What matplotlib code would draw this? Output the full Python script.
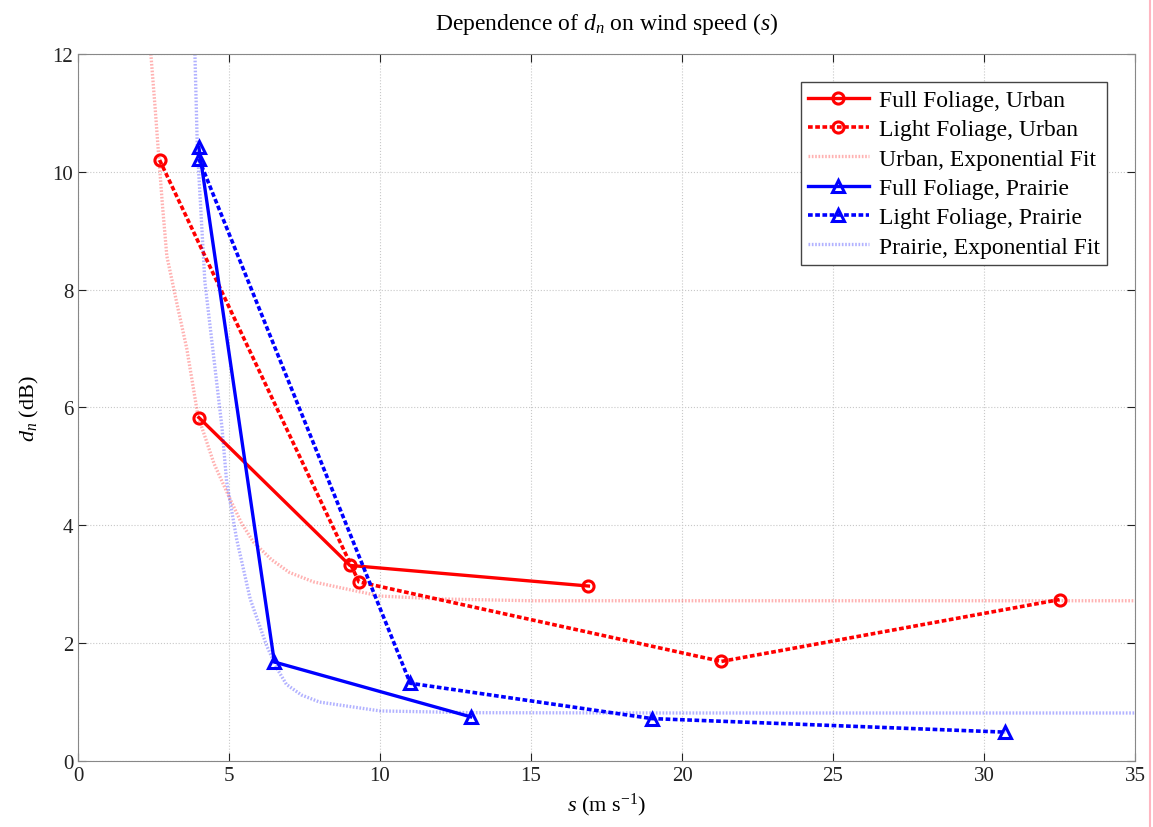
#!/usr/bin/env python3
# -*- coding: utf-8 -*-

import matplotlib
matplotlib.use('Agg')
import matplotlib.pyplot as plt
from matplotlib.lines import Line2D

plt.rcParams['font.family'] = ['Liberation Serif', 'DejaVu Serif']
plt.rcParams['mathtext.fontset'] = 'custom'
plt.rcParams['mathtext.rm'] = 'Liberation Serif'
plt.rcParams['mathtext.it'] = 'Liberation Serif:italic'

# measured noise decrement vs wind speed
full_urban_s = [4.0, 9.0, 16.9]
full_urban_d = [5.83, 3.32, 2.97]
light_urban_s = [2.7, 9.3, 21.3, 32.5]
light_urban_d = [10.2, 3.04, 1.69, 2.74]
full_prairie_s = [4.0, 6.5, 13.0]
full_prairie_d = [10.42, 1.68, 0.75]
light_prairie_s = [4.0, 11.0, 19.0, 30.7]
light_prairie_d = [10.22, 1.32, 0.72, 0.49]

# exponential fits (sampled)
urban_fit_s = [2.41, 2.55, 2.66, 2.8, 2.94, 3.3, 3.6, 3.97, 4.5, 5.03, 5.4, 5.8, 6.4, 7.0, 7.8, 8.7, 10.0, 12.0, 15.0, 20.0, 35.0]
urban_fit_d = [12.0, 11.1, 10.34, 9.4, 8.57, 7.7, 7.0, 5.86, 5.05, 4.45, 4.05, 3.72, 3.42, 3.2, 3.04, 2.94, 2.8, 2.75, 2.72, 2.72, 2.72]
prairie_fit_s = [3.87, 3.95, 4.2, 4.59, 4.76, 4.92, 5.25, 5.7, 6.25, 6.6, 6.9, 7.4, 8.0, 10.0, 13.0, 20.0, 35.0]
prairie_fit_d = [12.0, 10.4, 8.13, 6.43, 5.69, 4.74, 3.77, 2.75, 1.95, 1.56, 1.3, 1.12, 1.0, 0.85, 0.82, 0.815, 0.815]

dash = (0, (1.3, 0.7))
fine = (0, (0.5, 0.5))

fig = plt.figure(figsize=(11.53, 8.28), dpi=100)
ax = fig.add_axes([0.0677, 0.0797, 0.9167, 0.8539])

ax.plot(full_urban_s, full_urban_d, '-o', color='red', lw=2.4, ms=8, mew=2.2,
        mfc='none', label='Full Foliage, Urban')
ax.plot(light_urban_s, light_urban_d, marker='o', ls=dash, color='red', lw=2.6,
        ms=8, mew=2.2, mfc='none', label='Light Foliage, Urban')
ax.plot(urban_fit_s, urban_fit_d, ls=fine, color='red', lw=2.4, alpha=0.3,
        label='Urban, Exponential Fit')
ax.plot(full_prairie_s, full_prairie_d, '-^', color='blue', lw=2.4, ms=8, mew=2.2,
        mfc='none', label='Full Foliage, Prairie')
ax.plot(light_prairie_s, light_prairie_d, marker='^', ls=dash, color='blue', lw=2.6,
        ms=8, mew=2.2, mfc='none', label='Light Foliage, Prairie')
ax.plot(prairie_fit_s, prairie_fit_d, ls=fine, color='blue', lw=2.4, alpha=0.3,
        label='Prairie, Exponential Fit')

ax.set_xlim(0, 35)
ax.set_ylim(0, 12)
ax.set_xticks(range(0, 36, 5))
ax.set_yticks(range(0, 13, 2))
ax.grid(True, ls=':', color='#c8c8c8', lw=0.8)
ax.tick_params(direction='in', top=True, right=True, labelsize=15, length=6,
               colors='#222222')
for sp in ax.spines.values():
    sp.set_color('#888888')

ax.set_title('Dependence of $d_n$ on wind speed ($s$)', fontsize=17, pad=18)
ax.set_xlabel('$s$ (m s$^{-1}$)', fontsize=16, labelpad=4)
ax.set_ylabel('$d_n$ (dB)', fontsize=16, labelpad=8)

leg = ax.legend(loc='upper right', fontsize=17, fancybox=False, framealpha=1,
                edgecolor='#444444', borderaxespad=1.2, handlelength=2.6,
                labelspacing=0.33, handletextpad=0.4, borderpad=0.3)
leg.get_frame().set_linewidth(1.0)

# thin pink border on the right side of the canvas
fig.add_artist(Line2D([0.9975, 0.9975], [0, 1], color='#ffb6c1', lw=1.5))

fig.savefig('out.png', dpi=100)
